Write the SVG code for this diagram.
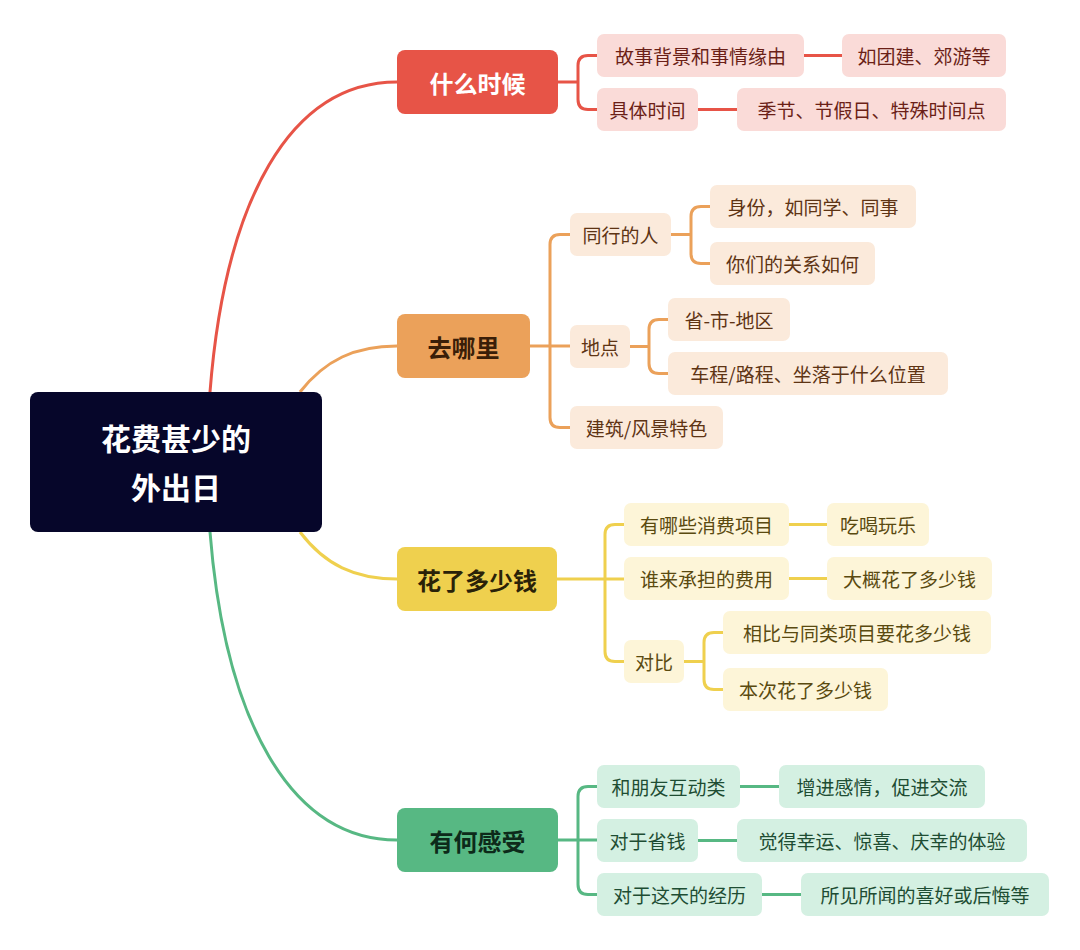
<svg xmlns="http://www.w3.org/2000/svg" width="1080" height="950" viewBox="0 0 1080 950">
<style>
text{font-family:"Noto Sans CJK SC","Noto Sans",sans-serif;dominant-baseline:central;text-anchor:middle}
.m{font-size:24px;font-weight:bold}
.c{font-size:19px}
.cr{fill:#fadbd8}.tr{fill:#6b1f17}
.co{fill:#fbeadb}.to{fill:#5e3414}
.cy{fill:#fdf5d8}.ty{fill:#5a4a10}
.cg{fill:#d4f0e2}.tg{fill:#1e4d33}
.l{fill:none;stroke-width:3}
</style>
<rect width="1080" height="950" fill="#fff"/>
<g id="connectors">
<path class="l" stroke="#e75447" d="M210,392 C225,200 290,82 397,82"/>
<path class="l" stroke="#eba15a" d="M300,392 C325,360 355,346 397,346"/>
<path class="l" stroke="#efd04e" d="M300,532 C325,565 355,579 397,579"/>
<path class="l" stroke="#57b883" d="M210,532 C225,720 290,840 397,840"/>
<g stroke="#e75447" class="l" stroke-width="2">
<path d="M558,82 H578 V65.5 Q578,55.5 588,55.5 H597 M578,82 V99.5 Q578,109.5 588,109.5 H597"/>
<path d="M804,55.5 H842 M698,109.5 H737"/>
</g>
<g stroke="#eba15a" class="l" stroke-width="2">
<path d="M530,346 H570 M550,346 V244.5 Q550,234.5 560,234.5 H570 M550,346 V417.5 Q550,427.5 560,427.5 H570"/>
<path d="M671,234.5 H691 V216.5 Q691,206.5 701,206.5 H710 M691,234.5 V253.5 Q691,263.5 701,263.5 H710"/>
<path d="M630,346.5 H649 V329.5 Q649,319.5 659,319.5 H668 M649,346.5 V363.5 Q649,373.5 659,373.5 H668"/>
</g>
<g stroke="#efd04e" class="l" stroke-width="2">
<path d="M557,579 H624 M605,579 V534.5 Q605,524.5 615,524.5 H624 M605,579 V651.5 Q605,661.5 615,661.5 H624"/>
<path d="M789,524.5 H827 M789,578.5 H827"/>
<path d="M684,661.5 H704 V642.5 Q704,632.5 714,632.5 H723 M704,661.5 V679.5 Q704,689.5 714,689.5 H723"/>
</g>
<g stroke="#57b883" class="l" stroke-width="2">
<path d="M558,840 H597 M578,840 V796.5 Q578,786.5 588,786.5 H597 M578,840 V884.5 Q578,894.5 588,894.5 H597"/>
<path d="M740,786.5 H779 M698,840.5 H737 M762,894.5 H801"/>
</g>
</g>
<g id="root"><rect x="30" y="392" width="292" height="140" rx="8" fill="#06062a"/><text x="176" y="437" fill="#fff" style="font-size:30px;font-weight:bold">花费甚少的</text><text x="176" y="486" fill="#fff" style="font-size:30px;font-weight:bold">外出日</text></g>
<g id="n1"><rect x="397" y="50" width="161" height="64" rx="8" fill="#e75447"/><text class="m" x="477.5" y="82" fill="#fff">什么时候</text></g>
<g id="n1a"><rect class="cr" x="597" y="34" width="207" height="43" rx="7"/><text class="c tr" x="700.5" y="55.5">故事背景和事情缘由</text></g>
<g id="n1b"><rect class="cr" x="597" y="88" width="101" height="43" rx="7"/><text class="c tr" x="647.5" y="109.5">具体时间</text></g>
<g id="n1a1"><rect class="cr" x="842" y="34" width="164" height="43" rx="7"/><text class="c tr" x="924" y="55.5">如团建、郊游等</text></g>
<g id="n1b1"><rect class="cr" x="737" y="88" width="269" height="43" rx="7"/><text class="c tr" x="871.5" y="109.5">季节、节假日、特殊时间点</text></g>
<g id="n2"><rect x="397" y="314" width="133" height="64" rx="8" fill="#eba15a"/><text class="m" x="463.5" y="346" fill="#3a1e08">去哪里</text></g>
<g id="n2a"><rect class="co" x="570" y="213" width="101" height="43" rx="7"/><text class="c to" x="620.5" y="234.5">同行的人</text></g>
<g id="n2b"><rect class="co" x="570" y="325" width="60" height="43" rx="7"/><text class="c to" x="600" y="346.5">地点</text></g>
<g id="n2c"><rect class="co" x="570" y="406" width="153" height="43" rx="7"/><text class="c to" x="646.5" y="427.5">建筑/风景特色</text></g>
<g id="n2a1"><rect class="co" x="710" y="185" width="206" height="43" rx="7"/><text class="c to" x="813" y="206.5">身份，如同学、同事</text></g>
<g id="n2a2"><rect class="co" x="710" y="242" width="165" height="43" rx="7"/><text class="c to" x="792.5" y="263.5">你们的关系如何</text></g>
<g id="n2b1"><rect class="co" x="668" y="298" width="122" height="43" rx="7"/><text class="c to" x="729" y="319.5">省-市-地区</text></g>
<g id="n2b2"><rect class="co" x="668" y="352" width="280" height="43" rx="7"/><text class="c to" x="808" y="373.5">车程/路程、坐落于什么位置</text></g>
<g id="n3"><rect x="397" y="547" width="160" height="64" rx="8" fill="#efd04e"/><text class="m" x="477" y="579" fill="#2a2208">花了多少钱</text></g>
<g id="n3a"><rect class="cy" x="624" y="503" width="165" height="43" rx="7"/><text class="c ty" x="706.5" y="524.5">有哪些消费项目</text></g>
<g id="n3b"><rect class="cy" x="624" y="557" width="165" height="43" rx="7"/><text class="c ty" x="706.5" y="578.5">谁来承担的费用</text></g>
<g id="n3c"><rect class="cy" x="624" y="640" width="60" height="43" rx="7"/><text class="c ty" x="654" y="661.5">对比</text></g>
<g id="n3a1"><rect class="cy" x="827" y="503" width="102" height="43" rx="7"/><text class="c ty" x="878" y="524.5">吃喝玩乐</text></g>
<g id="n3b1"><rect class="cy" x="827" y="557" width="165" height="43" rx="7"/><text class="c ty" x="909.5" y="578.5">大概花了多少钱</text></g>
<g id="n3c1"><rect class="cy" x="723" y="611" width="268" height="43" rx="7"/><text class="c ty" x="857" y="632.5">相比与同类项目要花多少钱</text></g>
<g id="n3c2"><rect class="cy" x="723" y="668" width="165" height="43" rx="7"/><text class="c ty" x="805.5" y="689.5">本次花了多少钱</text></g>
<g id="n4"><rect x="397" y="808" width="161" height="64" rx="8" fill="#57b883"/><text class="m" x="477.5" y="840" fill="#0d2a1a">有何感受</text></g>
<g id="n4a"><rect class="cg" x="597" y="765" width="143" height="43" rx="7"/><text class="c tg" x="668.5" y="786.5">和朋友互动类</text></g>
<g id="n4b"><rect class="cg" x="597" y="819" width="101" height="43" rx="7"/><text class="c tg" x="647.5" y="840.5">对于省钱</text></g>
<g id="n4c"><rect class="cg" x="597" y="873" width="165" height="43" rx="7"/><text class="c tg" x="679.5" y="894.5">对于这天的经历</text></g>
<g id="n4a1"><rect class="cg" x="779" y="765" width="206" height="43" rx="7"/><text class="c tg" x="882" y="786.5">增进感情，促进交流</text></g>
<g id="n4b1"><rect class="cg" x="737" y="819" width="290" height="43" rx="7"/><text class="c tg" x="882" y="840.5">觉得幸运、惊喜、庆幸的体验</text></g>
<g id="n4c1"><rect class="cg" x="801" y="873" width="248" height="43" rx="7"/><text class="c tg" x="925" y="894.5">所见所闻的喜好或后悔等</text></g>
</svg>
